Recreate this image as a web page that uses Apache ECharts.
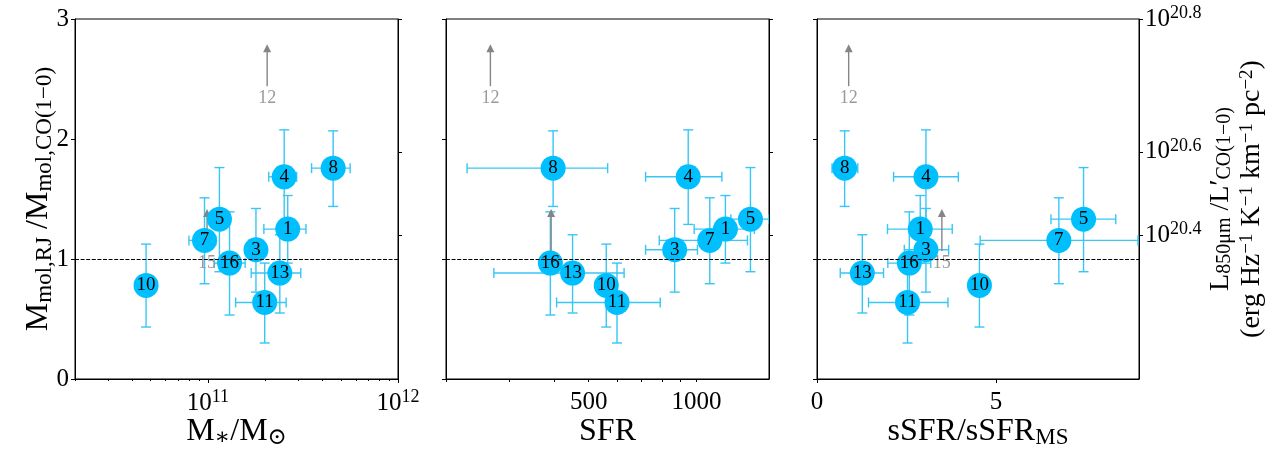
<!DOCTYPE html>
<html><head><meta charset="utf-8">
<script src="https://cdn.jsdelivr.net/npm/echarts@6/dist/echarts.min.js"></script>
<style>html,body{margin:0;padding:0;background:#fff}#c{width:1284px;height:449px}</style>
</head><body><div id="c"></div>
<script>
// ---- data ----
const ids      = [1, 3, 4, 5, 7, 8, 10, 11, 13, 16];
const ratio    = [1.249, 1.077, 1.685, 1.332, 1.155, 1.757, 0.780, 0.638, 0.883, 0.966];
const ratioLo  = [0.966, 0.724, 1.288, 0.894, 0.794, 1.438, 0.433, 0.300, 0.550, 0.533];
const ratioHi  = [1.529, 1.421, 2.076, 1.762, 1.510, 2.068, 1.124, 0.966, 1.202, 1.393];
const mstar    = [2.63e11, 1.79e11, 2.52e11, 1.15e11, 9.6e10, 4.56e11, 4.73e10, 1.99e11, 2.39e11, 1.30e11];
const mstarLo  = [1.97e11, null, 2.09e11, null, 7.95e10, 3.51e11, null, 1.40e11, 1.69e11, 1.08e11];
const mstarHi  = [3.28e11, null, 2.93e11, null, 1.10e11, 5.60e11, null, 2.58e11, 3.08e11, 1.57e11];
const sfr      = [1204, 869, 948, 1414, 1089, 398, 560, 600, 451, 391];
const sfrLo    = [985, 721, 721, 1247, 787, 229, null, 407, 272, null];
const sfrHi    = [1450, 1006, 1177, 1590, 1387, 565, null, 792, 628, null];
const ssfr     = [2.886, 3.045, 3.045, 7.45, 6.76, 0.773, 4.54, 2.53, 1.266, 2.58];
const ssfrLo   = [1.97, 2.44, 2.14, 6.54, 4.56, 0.42, null, 1.44, 0.65, 1.98];
const ssfrHi   = [3.78, 3.68, 3.95, 8.35, 8.97, 1.14, null, 3.66, 1.86, 3.18];
const limitIds   = [12, 15];
const limitRatio = [2.34, 0.966];
const limitMstar = [2.05e11, 9.9e10];
const limitSfr   = [266, 393];
const limitSsfr  = [0.885, 3.49];
const leftTicks  = [0, 1, 2, 3];
const mstarMajor = [1e11, 1e12];
const mstarMinor = [2e10, 3e10, 4e10, 5e10, 6e10, 7e10, 8e10, 9e10, 2e11, 3e11, 4e11, 5e11, 6e11, 7e11, 8e11, 9e11];
const sfrTicks   = [200, 300, 400, 500, 600, 700, 800, 900, 1000];
const sfrLabels  = [500, 1000];
const ssfrTicks  = [0, 5];
const rightTicks = [Math.pow(10, 20.4), Math.pow(10, 20.6), Math.pow(10, 20.8)];

// ---- style ----
const FONT = "'Liberation Serif','DejaVu Serif',serif";
const BLUE = '#00bfff';
const ERR = '#38c6f6';
const GRAY = '#858585';

const chart = echarts.init(document.getElementById('c'));

function errItem(params, api) {
  const x = api.value(0), y = api.value(1);
  const xl = api.value(2), xh = api.value(3), yl = api.value(4), yh = api.value(5);
  const c = api.coord([x, y]);
  const cap = 5;
  const st = { stroke: ERR, lineWidth: 1.4, fill: null };
  const ch = [];
  if (xl !== xh) {
    const a = api.coord([xl, y])[0], b = api.coord([xh, y])[0];
    ch.push({ type: 'line', shape: { x1: a, y1: c[1], x2: b, y2: c[1] }, style: st });
    ch.push({ type: 'line', shape: { x1: a, y1: c[1] - cap, x2: a, y2: c[1] + cap }, style: st });
    ch.push({ type: 'line', shape: { x1: b, y1: c[1] - cap, x2: b, y2: c[1] + cap }, style: st });
  }
  if (yl !== yh) {
    const a = api.coord([x, yl])[1], b = api.coord([x, yh])[1];
    ch.push({ type: 'line', shape: { x1: c[0], y1: a, x2: c[0], y2: b }, style: st });
    ch.push({ type: 'line', shape: { x1: c[0] - cap, y1: a, x2: c[0] + cap, y2: a }, style: st });
    ch.push({ type: 'line', shape: { x1: c[0] - cap, y1: b, x2: c[0] + cap, y2: b }, style: st });
  }
  return { type: 'group', children: ch };
}

function arrowItem(params, api) {
  const c = api.coord([api.value(0), api.value(1)]);
  const x = c[0], y = c[1];
  return { type: 'group', children: [
    { type: 'text', style: { text: String(api.value(2)), x: x, y: y, align: 'center', verticalAlign: 'middle',
        font: "18px " + FONT, fill: '#9a9a9a' } },
    { type: 'line', shape: { x1: x, y1: y - 12, x2: x, y2: y - 47 }, style: { stroke: GRAY, lineWidth: 1.4 } },
    { type: 'polygon', shape: { points: [[x, y - 54], [x - 4, y - 46], [x + 4, y - 46]] }, style: { fill: GRAY } }
  ]};
}

const grids = [
  { left: 75, top: 19, width: 323, height: 360 },
  { left: 446, top: 19, width: 323, height: 360 },
  { left: 817, top: 19, width: 322, height: 360 }
].map(g => Object.assign({ show: true, borderColor: '#000', borderWidth: 1, backgroundColor: 'transparent', containLabel: false, outerBoundsMode: 'none' }, g));

const tickLabel = { color: '#000', fontFamily: FONT, fontSize: 25 };
const powRich = {
  b: { fontFamily: FONT, fontSize: 25, color: '#000' },
  s: { fontFamily: FONT, fontSize: 18, color: '#000', padding: [0, 0, 12, 0] }
};
const nameRich = {
  m: { fontFamily: FONT, fontSize: 32, color: '#000' },
  s: { fontFamily: FONT, fontSize: 23, color: '#000', padding: [12, 0, 0, 0] },
  p: { fontFamily: FONT, fontSize: 21, color: '#000', padding: [0, 0, 12, 0] }
};
const nameRich2 = {
  m: { fontFamily: FONT, fontSize: 28, color: '#000', lineHeight: 31 },
  s: { fontFamily: FONT, fontSize: 20, color: '#000', padding: [9, 0, 0, 0] },
  p: { fontFamily: FONT, fontSize: 19, color: '#000', padding: [0, 0, 9, 0] }
};
const axLine = { show: true, lineStyle: { color: '#000', width: 1 } };

const yAxes = [];
for (let g = 0; g < 3; g++) {
  yAxes.push({
    gridIndex: g, type: 'value', position: 'left', min: 0, max: 3, interval: 1,
    axisLine: axLine, splitLine: { show: false },
    axisTick: { show: true, length: 4, lineStyle: { color: '#000' }, customValues: leftTicks },
    axisLabel: Object.assign({ show: g === 0, margin: 6, customValues: leftTicks }, tickLabel),
    name: g === 0 ? '{m|M}{s|mol,RJ}{m| /M}{s|mol,CO(1−0)}' : '',
    nameLocation: 'middle', nameRotate: 90, nameGap: 19, nameMoveOverlap: false,
    nameTextStyle: { rich: nameRich }
  });
  yAxes.push({
    gridIndex: g, type: 'value', position: 'right', min: 0, max: Math.pow(10, 20.8),
    axisLine: axLine, splitLine: { show: false },
    axisTick: { show: true, length: 4, lineStyle: { color: '#000' }, customValues: rightTicks },
    axisLabel: { show: g === 2, margin: 6, customValues: rightTicks,
      formatter: v => '{b|10}{s|' + Math.log10(v).toFixed(1) + '}', rich: powRich },
    name: g === 2 ? '{m|L}{s|850μm}{m| /L′}{s|CO(1−0)}\n{m|(erg Hz}{p|−1}{m| K}{p|−1}{m| km}{p|−1}{m| pc}{p|−2}{m|)}' : '',
    nameLocation: 'middle', nameRotate: 90, nameGap: 66, nameMoveOverlap: false,
    nameTextStyle: { rich: nameRich2 }
  });
}

const xAxes = [
  { gridIndex: 0, type: 'log', logBase: 10, position: 'bottom', min: 2e10, max: 1e12,
    axisLine: axLine, splitLine: { show: false },
    axisTick: { show: true, length: 4, lineStyle: { color: '#000' }, customValues: mstarMajor },
    axisLabel: { margin: 9, customValues: mstarMajor,
      formatter: v => '{b|10}{s|' + Math.round(Math.log10(v)) + '}', rich: powRich },
    name: '{m|M}{s|∗}{m|/M}{s|⊙}', nameLocation: 'middle', nameGap: 35, nameMoveOverlap: false,
    nameTextStyle: { rich: nameRich } },
  { gridIndex: 0, type: 'log', logBase: 10, position: 'bottom', min: 2e10, max: 1e12,
    axisLine: { show: false }, splitLine: { show: false },
    axisTick: { show: true, length: 2, lineStyle: { color: '#000' }, customValues: mstarMinor },
    axisLabel: { show: false } },
  { gridIndex: 1, type: 'log', logBase: 10, position: 'bottom', min: 200, max: 1593,
    axisLine: axLine, splitLine: { show: false },
    axisTick: { show: true, length: 3, lineStyle: { color: '#000' }, customValues: sfrTicks },
    axisLabel: Object.assign({ margin: 11, customValues: sfrLabels, formatter: v => String(Math.round(v)) }, tickLabel),
    name: '{m|SFR}', nameLocation: 'middle', nameGap: 37, nameMoveOverlap: false,
    nameTextStyle: { rich: nameRich } },
  { gridIndex: 2, type: 'value', position: 'bottom', min: 0, max: 9,
    axisLine: axLine, splitLine: { show: false },
    axisTick: { show: true, length: 4, lineStyle: { color: '#000' }, customValues: ssfrTicks },
    axisLabel: Object.assign({ margin: 11, customValues: ssfrTicks, formatter: v => String(v) }, tickLabel),
    name: '{m|sSFR/sSFR}{s|MS}', nameLocation: 'middle', nameGap: 35, nameMoveOverlap: false,
    nameTextStyle: { rich: nameRich } }
];

const panels = [
  { xi: 0, yi: 0, x: mstar, lo: mstarLo, hi: mstarHi, lim: limitMstar },
  { xi: 2, yi: 2, x: sfr, lo: sfrLo, hi: sfrHi, lim: limitSfr },
  { xi: 3, yi: 4, x: ssfr, lo: ssfrLo, hi: ssfrHi, lim: limitSsfr }
];

const series = [];
panels.forEach(p => {
  series.push({
    type: 'custom', xAxisIndex: p.xi, yAxisIndex: p.yi, z: 2, silent: true, clip: true,
    renderItem: errItem, encode: { x: 0, y: 1 },
    data: ids.map((id, i) => [p.x[i], ratio[i], p.lo[i] ?? p.x[i], p.hi[i] ?? p.x[i], ratioLo[i], ratioHi[i]])
  });
  series.push({
    type: 'custom', xAxisIndex: p.xi, yAxisIndex: p.yi, z: 3, silent: true, clip: true,
    renderItem: arrowItem, encode: { x: 0, y: 1 },
    data: limitIds.map((id, i) => [p.lim[i], limitRatio[i], id])
  });
  series.push({
    type: 'scatter', xAxisIndex: p.xi, yAxisIndex: p.yi, z: 4, silent: true,
    symbol: 'circle', symbolSize: 25, itemStyle: { color: BLUE, opacity: 1 },
    label: { show: true, position: 'inside', formatter: q => String(q.value[2]),
      color: '#000', fontFamily: FONT, fontSize: 19 },
    data: ids.map((id, i) => [p.x[i], ratio[i], id]),
    markLine: { silent: true, symbol: ['none', 'none'], label: { show: false },
      lineStyle: { color: '#000', width: 1, type: [4, 1.6] },
      emphasis: { disabled: true }, data: [{ yAxis: 1 }] }
  });
});

chart.setOption({
  animation: false,
  backgroundColor: '#fff',
  grid: grids,
  xAxis: xAxes,
  yAxis: yAxes,
  series: series
});
</script></body></html>
